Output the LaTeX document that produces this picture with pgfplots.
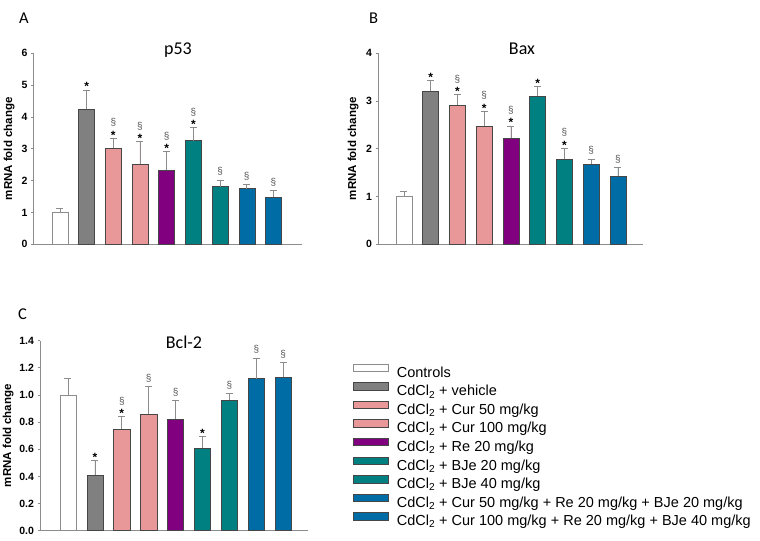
\documentclass[border=0pt]{standalone}
\usepackage{pgfplots}
\pgfplotsset{compat=1.18}
\usepackage{fontspec}
\setmainfont{Liberation Sans}
\newfontfamily\calibri{Carlito}
\newcommand\ticks{\fontsize{10.5bp}{12bp}\selectfont\bfseries}
\newcommand\ylab{\fontsize{11.5bp}{13bp}\selectfont\bfseries}
\newcommand\leg{\fontsize{14.5bp}{17bp}\selectfont}
\newcommand\ttl{\calibri\fontsize{18bp}{20bp}\selectfont}
\newcommand\letr{\calibri\fontsize{16.5bp}{18bp}\selectfont}
\definecolor{cveh}{RGB}{128,128,128}
\definecolor{ccur}{RGB}{232,152,152}
\definecolor{cre}{RGB}{128,0,128}
\definecolor{cbje}{RGB}{0,128,128}
\definecolor{ccomb}{RGB}{0,108,166}
\definecolor{cax}{RGB}{140,140,140}
\definecolor{cbord}{RGB}{70,70,70}
\pgfplotsset{
  panel/.style={scale only axis, anchor=south west,
    axis x line=bottom, axis y line=left,
    axis line style={draw=cax, line width=0.8bp, -},
    xtick=\empty, tick align=outside, major tick length=2.5bp,
    y tick style={draw=cax, line width=0.8bp},
    tick label style={font=\ticks},
    /pgf/number format/assume math mode=true,
    ylabel={mRNA fold change}, ylabel style={font=\ylab, anchor=center},
    clip=false, ymin=0},
  bstyle/.style={ybar, bar width=0.6, bar shift=0pt, line width=0.5bp,
    error bars/y dir=plus, error bars/y explicit,
    error bars/error bar style={draw=cax, line width=0.7bp},
    error bars/error mark options={rotate=90, draw=cax, line width=0.7bp, mark size=3.5bp}},
  b1/.style={bstyle, fill=white, draw=cax},
  b2/.style={bstyle, fill=cveh, draw=cbord},
  b3/.style={bstyle, fill=ccur, draw=cbord},
  b5/.style={bstyle, fill=cre, draw=cbord},
  b6/.style={bstyle, fill=cbje, draw=cbord},
  b8/.style={bstyle, fill=ccomb, draw=cbord},
  annot/.style={forget plot, only marks, mark=*, mark size=0pt, mark options={draw=none, fill=none},
    nodes near coords={#1}},
  star/.style={annot={\fontsize{12bp}{12bp}\selectfont\bfseries *},
    every node near coord/.append style={anchor=base, inner sep=0pt, yshift=-1bp, text=black}},
  secs/.style={annot={\fontsize{10bp}{10bp}\selectfont §},
    every node near coord/.append style={anchor=base, inner sep=0pt, yshift=12.4bp, text=black!65}},
  seca/.style={annot={\fontsize{10bp}{10bp}\selectfont §},
    every node near coord/.append style={anchor=base, inner sep=0pt, yshift=5.4bp, text=black!65}},
}
\begin{document}
\begin{tikzpicture}[x=1bp,y=1bp]
\path[use as bounding box] (0,0) rectangle (760,541);
% Panel A
\begin{axis}[panel, at={(33.5bp,296.7bp)}, width=268.5bp, height=191bp,
  xmin=0.01, xmax=10.07, ymax=6, ytick={0,1,2,3,4,5,6},
  ylabel style={at={(axis description cs:-0.091,0.5)}}]
\addplot[b1] coordinates {(1,1.00) +- (0,0.12)};
\addplot[b2] coordinates {(2,4.24) +- (0,0.61)};
\addplot[b3] coordinates {(3,3.01) +- (0,0.32)};
\addplot[b3] coordinates {(4,2.53) +- (0,0.69)};
\addplot[b5] coordinates {(5,2.32) +- (0,0.59)};
\addplot[b6] coordinates {(6,3.26) +- (0,0.40)};
\addplot[b6] coordinates {(7,1.81) +- (0,0.21)};
\addplot[b8] coordinates {(8,1.75) +- (0,0.13)};
\addplot[b8] coordinates {(9,1.49) +- (0,0.20)};
\addplot[star] coordinates {(2,4.85) (3,3.33) (4,3.22) (5,2.91) (6,3.66)};
\addplot[secs] coordinates {(3,3.33) (4,3.22) (5,2.91) (6,3.66)};
\addplot[seca] coordinates {(7,2.02) (8,1.88) (9,1.69)};
\end{axis}
% Panel B
\begin{axis}[panel, at={(378bp,296.7bp)}, width=265bp, height=191bp,
  xmin=0.03, xmax=9.94, ymax=4, ytick={0,1,2,3,4},
  ylabel style={at={(axis description cs:-0.094,0.5)}}]
\addplot[b1] coordinates {(1,1.00) +- (0,0.10)};
\addplot[b2] coordinates {(2,3.21) +- (0,0.22)};
\addplot[b3] coordinates {(3,2.92) +- (0,0.21)};
\addplot[b3] coordinates {(4,2.48) +- (0,0.31)};
\addplot[b5] coordinates {(5,2.22) +- (0,0.26)};
\addplot[b6] coordinates {(6,3.11) +- (0,0.19)};
\addplot[b6] coordinates {(7,1.78) +- (0,0.23)};
\addplot[b8] coordinates {(8,1.68) +- (0,0.10)};
\addplot[b8] coordinates {(9,1.42) +- (0,0.19)};
\addplot[star] coordinates {(2,3.43) (3,3.13) (4,2.79) (5,2.48) (6,3.30) (7,2.01)};
\addplot[secs] coordinates {(3,3.13) (4,2.79) (5,2.48) (7,2.01)};
\addplot[seca] coordinates {(8,1.78) (9,1.61)};
\end{axis}
% Panel C
\begin{axis}[panel, at={(40bp,10.3bp)}, width=268bp, height=190bp,
  xmin=-0.04, xmax=9.92, ymax=1.4, ytick={0,0.2,0.4,0.6,0.8,1.0,1.2,1.4},
  yticklabel style={/pgf/number format/.cd, fixed, fixed zerofill, precision=1},
  ylabel style={at={(axis description cs:-0.119,0.5)}},
  legend style={at={(axis description cs:1.168,0.8795)}, anchor=north west,
    draw=none, fill=none, inner sep=0pt, font=\leg, row sep=1.5bp, column sep=8bp,
    nodes={inner sep=0pt, text height=11bp, text depth=3.5bp}},
  legend cell align=left,
  legend image code/.code={\draw[#1,/tikz/.cd, line width=0.6bp] (0bp,2bp) rectangle (35bp,9.5bp);}]
\addplot[b1] coordinates {(1,1.00) +- (0,0.12)};
\addplot[b2] coordinates {(2,0.41) +- (0,0.11)};
\addplot[b3] coordinates {(3,0.75) +- (0,0.09)};
\addplot[b3] coordinates {(4,0.86) +- (0,0.20)};
\addplot[b5] coordinates {(5,0.82) +- (0,0.14)};
\addplot[b6] coordinates {(6,0.61) +- (0,0.085)};
\addplot[b6] coordinates {(7,0.96) +- (0,0.05)};
\addplot[b8] coordinates {(8,1.12) +- (0,0.15)};
\addplot[b8] coordinates {(9,1.13) +- (0,0.11)};
\addplot[star] coordinates {(2,0.52) (3,0.84) (6,0.695)};
\addplot[secs] coordinates {(3,0.84)};
\addplot[seca] coordinates {(4,1.06) (5,0.96) (7,1.01) (8,1.27) (9,1.24)};
\legend{Controls,
  CdCl\textsubscript{2} + vehicle,
  CdCl\textsubscript{2} + Cur 50 mg/kg,
  CdCl\textsubscript{2} + Cur 100 mg/kg,
  CdCl\textsubscript{2} + Re 20 mg/kg,
  CdCl\textsubscript{2} + BJe 20 mg/kg,
  CdCl\textsubscript{2} + BJe 40 mg/kg,
  CdCl\textsubscript{2} + Cur 50 mg/kg + Re 20 mg/kg + BJe 20 mg/kg,
  CdCl\textsubscript{2} + Cur 100 mg/kg + Re 20 mg/kg + BJe 40 mg/kg}
\end{axis}
% titles and panel letters
\node[anchor=base west, inner sep=0pt, font=\letr] at (19,517.7) {A};
\node[anchor=base west, inner sep=0pt, font=\letr] at (369,517.7) {B};
\node[anchor=base west, inner sep=0pt, font=\letr] at (18,221) {C};
\node[anchor=base, inner sep=0pt, font=\ttl] at (178,486) {p53};
\node[anchor=base, inner sep=0pt, font=\ttl] at (522,486) {Bax};
\node[anchor=base, inner sep=0pt, font=\ttl] at (184,192.7) {Bcl-2};
\end{tikzpicture}
\end{document}
